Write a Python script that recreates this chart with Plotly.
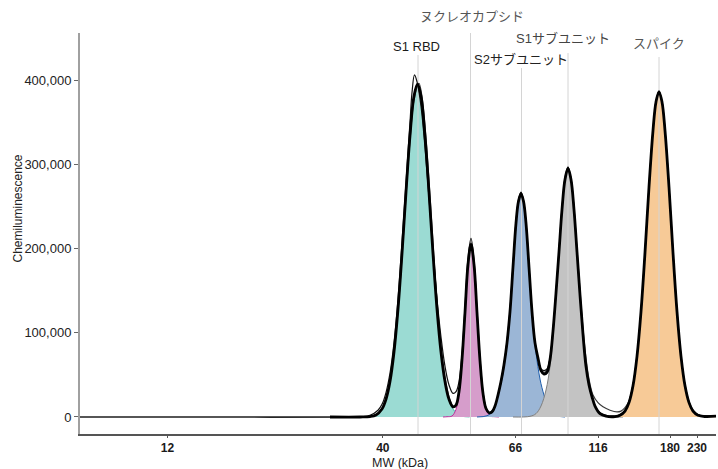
import numpy as np
import plotly.graph_objects as go

# MW ladder: migration position (a.u.) of each marker band and its size label
ladder_pos = [87.5, 302.8, 435.4, 518.1, 590.0, 617.0]
ladder_mw = ["12", "40", "66", "116", "180", "230"]

# fitted peak components (migration position, chemiluminescence in thousands)
rbd_x = [285.5, 293.5, 301.5, 307.5, 312.5, 317.5, 321.5, 325.5, 329.5, 333.5, 337.5,
         341.5, 345.5, 349.5, 353.5, 357.5, 362.5, 367.5, 373.5, 381.5, 389.5]
rbd_y = [0.1, 1.3, 8.5, 27.5, 62, 121, 185, 258, 327, 377, 395,
         377, 327, 258, 185, 121, 62, 27.5, 8.5, 1.3, 0.1]

nuc_x = [363, 367, 372, 376, 379, 381, 383, 385, 387, 389, 391,
         393, 395, 397, 399, 401, 403, 406, 410, 415, 419]
nuc_y = [0, 0.3, 1.2, 9, 28, 51, 84, 124, 164, 194, 205,
         194, 164, 124, 84, 51, 28, 9, 1.2, 0.3, 0]

s2_x = [397, 407, 413, 418, 422, 426, 429, 432, 435, 438, 441,
        444, 447, 450, 453, 456, 460, 464, 469, 475, 485]
s2_y = [0, 1.5, 7, 26, 45, 76, 109, 161, 212, 251, 265,
        251, 212, 161, 109, 76, 45, 26, 9, 2, 0]

s1_x = [433, 450, 456, 461, 466, 470, 474, 478, 482, 485, 488,
        491, 494, 498, 502, 506, 510, 515, 520, 526, 543]
s1_y = [0, 0.8, 4, 13, 32, 60, 112, 179, 246, 282, 295,
        282, 246, 179, 112, 60, 32, 13, 4, 0.8, 0]

spike_x = [529, 539, 545, 551, 556, 561, 565, 569, 573, 576, 579,
           582, 585, 589, 593, 597, 602, 607, 613, 619, 636]
spike_y = [0, 1.5, 7, 25, 61, 125, 195, 273, 340, 374, 386,
           374, 340, 273, 195, 125, 61, 25, 7, 1.5, 0.5]

# measured electropherogram signal
sig_x = [250, 280, 290, 296, 302, 306, 310, 314, 318, 322, 326, 330, 334, 337.5,
         341, 345, 349, 353, 357, 361, 365, 369, 373, 376, 379, 382, 385, 388, 391,
         394, 397, 400, 403, 406, 409, 412, 415, 418, 421, 424, 427, 430, 433, 436,
         438.5, 441, 443.5, 446, 449, 452, 455, 458, 461, 464, 467, 470, 473, 476,
         479, 482, 485, 488, 491, 494, 497, 500, 503, 506, 509, 512, 515, 520, 526,
         535, 540, 545, 549, 553, 557, 561, 565, 569, 573, 576, 579, 582, 585, 589,
         593, 597, 601, 605, 609, 613, 618, 625, 636]
sig_y = [0, 0, 0.5, 2.4, 9.5, 21, 42, 77, 128, 194, 267, 334, 381, 395,
         381, 334, 267, 194, 128, 77, 42, 21, 12, 14, 30, 68, 124, 181, 205,
         181, 124, 67, 28, 10, 5, 6, 13, 26, 42, 62, 88, 125, 178, 230,
         256, 265, 256, 230, 178, 125, 88, 70, 55, 51, 53, 68, 102, 147,
         196, 246, 282, 295, 282, 246, 196, 145, 98, 60, 38, 24, 13, 4, 1,
         0.5, 2, 7, 17, 37, 72, 125, 195, 273, 340, 374, 386, 374, 340, 273,
         195, 125, 72, 37, 17, 7, 2, 0.5, 1]

# total fit, run 1
fit1_x = [0, 150, 270, 282, 290, 298, 302, 306, 310, 314, 318, 322, 326, 330, 332,
          334.5, 337, 341, 345, 349, 353, 357, 361, 365, 369, 373, 376, 379, 382,
          385, 388, 391, 394, 397, 400, 403, 406, 409, 412, 415, 418, 421, 424, 427,
          430, 433, 436, 438.5, 441, 443.5, 446, 449, 452, 455, 458, 461, 464, 467,
          470, 473, 476, 479, 482, 485, 488, 491, 494, 497, 500, 503, 506, 509, 512,
          515, 520, 526, 535, 540, 545, 549, 553, 557, 561, 565, 569, 573, 576, 579,
          582, 585, 589, 593, 597, 601, 605, 609, 613, 618, 625, 636]
fit1_y = [0, 0, 0, 0.4, 2, 8, 15, 29, 52, 88, 140, 207, 278, 350, 385,
          406, 398, 369, 320, 260, 198, 140, 95, 60, 38, 28, 30, 42, 75,
          130, 188, 212, 186, 128, 70, 30, 11, 5, 7, 13, 26, 43, 63, 90,
          127, 180, 232, 258, 267, 257, 231, 179, 126, 89, 70, 57, 55, 57,
          70, 103, 148, 198, 248, 284, 297, 283, 247, 196, 145, 98, 60, 38, 24,
          13, 5, 2, 1, 2.5, 8, 18, 38, 73, 126, 196, 274, 341, 375, 387,
          375, 341, 274, 196, 126, 73, 38, 18, 8, 3, 1.5, 1.5]

# total fit, run 2
fit2_x = [0, 150, 275, 288, 296, 302, 306, 310, 314, 318, 322, 326, 330, 334, 339,
          342, 346, 350, 354, 358, 362, 366, 370, 373, 376, 379, 382, 385, 388, 391,
          394, 397, 400, 403, 406, 409, 412, 415, 418, 421, 424, 427, 430, 433, 436,
          438.5, 441, 443.5, 446, 449, 452, 455, 458, 461, 464, 467, 470, 473, 476,
          479, 482, 485, 488, 491, 494, 497, 500, 503, 506, 509, 513, 518, 523, 530,
          537, 541, 545, 549, 553, 557, 561, 565, 569, 573, 576, 579, 582, 585, 589,
          593, 597, 601, 605, 609, 613, 618, 625, 636]
fit2_y = [0, 0, 0, 0.5, 2.5, 10, 21, 42, 76, 126, 190, 262, 328, 376, 396,
          380, 330, 262, 188, 122, 72, 40, 20, 13, 14, 30, 68, 124, 182, 207,
          182, 124, 67, 28, 10, 5, 7, 13, 26, 42, 62, 88, 125, 178, 230,
          256, 265, 256, 230, 178, 125, 88, 70, 56, 53, 55, 69, 102, 147,
          196, 246, 282, 296, 283, 248, 199, 150, 105, 70, 45, 26, 17, 12, 8,
          6, 7, 11, 19, 38, 72, 125, 195, 273, 340, 374, 386, 374, 340, 273,
          195, 125, 72, 37, 17, 7, 2.5, 1, 1]

# annotated protein peaks
peak_names = ["S1 RBD", "ヌクレオカプシド", "S2サブユニット", "S1サブユニット", "スパイク"]
peak_pos = [338, 390.5, 441.5, 488, 579]

# ---- styling / layout -------------------------------------------------------
FONT = "Liberation Sans, Arial, Noto Sans CJK JP, sans-serif"
Y_MIN, Y_MAX = -20200, 455800
W, H = 718, 469
M_L, M_R, M_T, M_B = 80, 2, 33, 35
PLOT_H = H - M_T - M_B

components = [
    (rbd_x, rbd_y, "#9bdbd3", "#3bb6a6"),
    (nuc_x, nuc_y, "#d69dcb", "#c0309c"),
    (s2_x, s2_y, "#9bb6d6", "#1f5fae"),
    (s1_x, s1_y, "#c3c3c3", "#808080"),
    (spike_x, spike_y, "#f7ca97", "#e38a2c"),
]

fig = go.Figure()

for xs, ys, fill, edge in components:
    fig.add_trace(go.Scatter(
        x=xs, y=np.array(ys) * 1000, mode="lines", fill="tozeroy",
        fillcolor=fill, line=dict(color=edge, width=1, shape="spline"),
        hoverinfo="skip", showlegend=False))

# peak marker lines, running from the x axis up to each label
line_tops = [429700, 455800, 414200, 432000, 427300]
for pos, top in zip(peak_pos, line_tops):
    fig.add_trace(go.Scatter(
        x=[pos, pos], y=[Y_MIN, top], mode="lines",
        line=dict(color="#d4d4d4", width=1), hoverinfo="skip", showlegend=False))

fig.add_trace(go.Scatter(
    x=fit2_x, y=np.array(fit2_y) * 1000, mode="lines",
    line=dict(color="#3a3a3a", width=1.2, shape="spline"),
    hoverinfo="skip", showlegend=False))
fig.add_trace(go.Scatter(
    x=fit1_x, y=np.array(fit1_y) * 1000, mode="lines",
    line=dict(color="#111111", width=1.2, shape="spline"),
    hoverinfo="skip", showlegend=False))
fig.add_trace(go.Scatter(
    x=sig_x, y=np.array(sig_y) * 1000, mode="lines",
    line=dict(color="#000000", width=2.8, shape="spline"),
    hoverinfo="skip", showlegend=False))

# peak labels above the plot
label_style = [
    (336.7, -13, "#1a1a1a"),
    (391.7, 17, "#555555"),
    (440.8, -26, "#222222"),
    (482.5, -5, "#444444"),
    (579.0, -10, "#555555"),
]
annotations = []
for name, (lx, dy, col) in zip(peak_names, label_style):
    annotations.append(dict(
        x=lx, xref="x", y=1, yref="paper", yshift=dy, text=name,
        showarrow=False, xanchor="center", yanchor="middle",
        font=dict(family=FONT, size=13, color=col)))

annotations.append(dict(
    x=0, xref="paper", xshift=-62.5, y=(H - M_B - 209) / PLOT_H, yref="paper",
    text="Chemiluminescence", textangle=-90, showarrow=False,
    xanchor="center", yanchor="middle",
    font=dict(family=FONT, size=12, color="#222222")))
annotations.append(dict(
    x=0.503, xref="paper", y=0, yref="paper", yshift=-28.5,
    text="MW (kDa)", showarrow=False, xanchor="center", yanchor="middle",
    font=dict(family=FONT, size=12.5, color="#222222")))

fig.update_layout(
    width=W, height=H,
    margin=dict(l=M_L, r=M_R, t=M_T, b=M_B, pad=0),
    paper_bgcolor="white", plot_bgcolor="white",
    showlegend=False,
    annotations=annotations,
    xaxis=dict(
        range=[0, 636], tickmode="array", tickvals=ladder_pos, ticktext=ladder_mw,
        showline=True, linecolor="#555555", linewidth=1.5,
        ticks="outside", ticklen=2, tickcolor="#555555",
        showgrid=False, zeroline=False,
        tickfont=dict(family=FONT, size=12, color="#1a1a1a", weight="bold")),
    yaxis=dict(
        range=[Y_MIN, Y_MAX], tickmode="array",
        tickvals=[0, 100000, 200000, 300000, 400000], tickformat=",d",
        showline=True, linecolor="#a0a0a0", linewidth=2,
        ticks="outside", ticklen=4, tickcolor="#666666",
        showgrid=False, zeroline=False,
        tickfont=dict(family=FONT, size=13, color="#222222")),
)

fig.write_html("out.html")
